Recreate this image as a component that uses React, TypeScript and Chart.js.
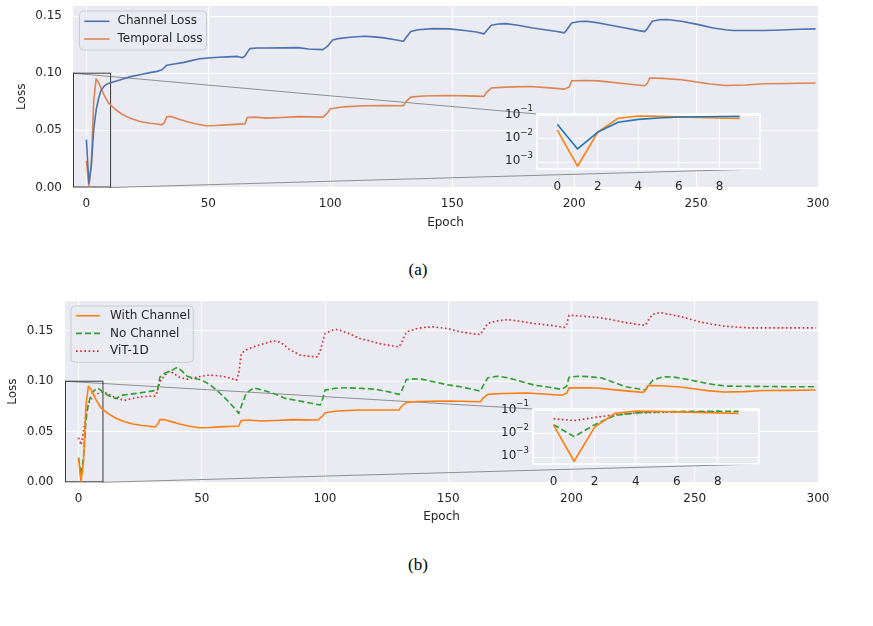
import React, { useEffect, useRef } from 'react';
import { Chart, registerables } from 'chart.js';

Chart.register(...registerables);

const SANS = '"DejaVu Sans", Verdana, sans-serif';
const TEXT = '#262626';
const FACE = '#eaeaf2';

// ---------- data ----------
const channelEpochs = [0, 1, 2, 3, 4, 5, 6, 7, 8, 9, 12, 15, 18, 22, 26, 29, 31, 33, 36, 40, 43, 46, 50, 54, 58, 62, 64, 65, 67, 70, 74, 80, 87, 91, 97, 99, 101, 104, 108, 114, 118, 122, 126, 130, 131, 133, 136, 142, 149, 155, 160, 163, 164, 166, 169, 172, 177, 183, 188, 193, 196, 197, 199, 202, 205, 210, 215, 221, 226, 229, 230, 232, 235, 238, 244, 251, 257, 262, 265, 270, 278, 285, 292, 299];
const channelLoss = [0.042, 0.0037, 0.0194, 0.051, 0.068, 0.078, 0.085, 0.088, 0.09, 0.091, 0.093, 0.095, 0.097, 0.0987, 0.1005, 0.1016, 0.103, 0.107, 0.108, 0.1095, 0.111, 0.1125, 0.1133, 0.114, 0.1143, 0.1147, 0.1135, 0.115, 0.1215, 0.122, 0.122, 0.1222, 0.1224, 0.1212, 0.1206, 0.124, 0.129, 0.1305, 0.1314, 0.1323, 0.1318, 0.1309, 0.1295, 0.128, 0.131, 0.1365, 0.138, 0.139, 0.1388, 0.1373, 0.136, 0.1344, 0.137, 0.142, 0.143, 0.1434, 0.142, 0.1396, 0.138, 0.1365, 0.1353, 0.138, 0.144, 0.1452, 0.1455, 0.144, 0.142, 0.1396, 0.1375, 0.1364, 0.139, 0.1455, 0.1468, 0.147, 0.1455, 0.1425, 0.1396, 0.138, 0.1373, 0.1373, 0.1373, 0.1378, 0.1385, 0.1388];

const temporalEpochs = [0, 1, 2, 3, 4, 5, 6, 7, 8, 9, 10, 12, 15, 18, 22, 26, 29, 31, 32, 33, 35, 38, 41, 45, 49, 53, 57, 61, 65, 66, 69, 74, 80, 87, 92, 97, 99, 100, 105, 114, 122, 130, 131, 133, 138, 148, 156, 163, 164, 166, 172, 182, 190, 196, 198, 199, 205, 210, 220, 229, 230, 231, 236, 244, 251, 256, 262, 270, 278, 288, 299];
const temporalLoss = [0.0234, 0.00067, 0.0194, 0.076, 0.095, 0.092, 0.087, 0.082, 0.078, 0.074, 0.072, 0.068, 0.0636, 0.0605, 0.0577, 0.0562, 0.0555, 0.0548, 0.057, 0.0621, 0.062, 0.0598, 0.0577, 0.0555, 0.054, 0.0542, 0.0548, 0.0552, 0.0557, 0.0612, 0.0616, 0.0607, 0.0612, 0.062, 0.0618, 0.0616, 0.0655, 0.0689, 0.0705, 0.0715, 0.0716, 0.0715, 0.075, 0.0791, 0.08, 0.0805, 0.0802, 0.0797, 0.083, 0.087, 0.0878, 0.0884, 0.0872, 0.0861, 0.088, 0.0934, 0.0936, 0.0933, 0.091, 0.089, 0.091, 0.0958, 0.0955, 0.0943, 0.0921, 0.0905, 0.0893, 0.0897, 0.0908, 0.091, 0.0914];

const noChannelEpochs = [0, 1, 2, 3, 4, 5, 6, 7, 8, 9, 10, 12, 15, 18, 22, 25, 29, 32, 33, 35, 38, 40, 42, 44, 47, 50, 53, 56, 60, 63, 65, 66, 68, 71, 75, 79, 84, 90, 95, 98, 99, 100, 104, 109, 114, 120, 126, 130, 131, 133, 136, 139, 144, 149, 155, 160, 163, 164, 166, 170, 174, 180, 185, 191, 196, 198, 199, 203, 207, 212, 217, 222, 227, 230, 231, 233, 237, 241, 245, 252, 258, 263, 270, 280, 290, 299];
const noChannelLoss = [0.0245, 0.0076, 0.0245, 0.061, 0.078, 0.086, 0.09, 0.092, 0.093, 0.091, 0.089, 0.086, 0.083, 0.0863, 0.0875, 0.0885, 0.09, 0.0912, 0.104, 0.108, 0.111, 0.1136, 0.11, 0.105, 0.103, 0.101, 0.097, 0.0912, 0.082, 0.074, 0.0682, 0.075, 0.088, 0.0935, 0.091, 0.088, 0.083, 0.0803, 0.078, 0.0764, 0.082, 0.0912, 0.093, 0.0935, 0.093, 0.0922, 0.0895, 0.087, 0.09, 0.1018, 0.1025, 0.1021, 0.0995, 0.0968, 0.0945, 0.092, 0.0902, 0.095, 0.1034, 0.105, 0.1035, 0.0995, 0.0961, 0.094, 0.0919, 0.095, 0.104, 0.105, 0.1045, 0.1034, 0.099, 0.0945, 0.0925, 0.0912, 0.095, 0.101, 0.1044, 0.1042, 0.1028, 0.0994, 0.0965, 0.0952, 0.095, 0.0948, 0.0945, 0.0945];

const vitEpochs = [0, 1, 2, 3, 4, 5, 6, 7, 8, 9, 10, 13, 16, 19, 22, 25, 28, 31, 32, 33, 35, 37, 39, 41, 44, 48, 52, 55, 58, 61, 64, 65, 66, 68, 71, 75, 79, 82, 86, 90, 94, 97, 98, 100, 103, 105, 109, 114, 118, 122, 126, 130, 131, 133, 137, 141, 144, 150, 155, 160, 163, 164, 166, 169, 174, 180, 185, 191, 197, 198, 199, 204, 211, 216, 222, 228, 230, 231, 233, 236, 240, 245, 252, 258, 262, 268, 272, 285, 299];
const vitLoss = [0.044, 0.037, 0.05, 0.066, 0.078, 0.082, 0.085, 0.087, 0.088, 0.089, 0.0895, 0.086, 0.0825, 0.0813, 0.083, 0.0846, 0.085, 0.0853, 0.09, 0.0994, 0.106, 0.1103, 0.107, 0.1038, 0.1021, 0.104, 0.106, 0.1058, 0.105, 0.1035, 0.101, 0.108, 0.1275, 0.131, 0.134, 0.137, 0.14, 0.1385, 0.1307, 0.1258, 0.1245, 0.1241, 0.13, 0.1472, 0.1505, 0.1512, 0.148, 0.1423, 0.14, 0.1373, 0.1355, 0.134, 0.138, 0.1488, 0.152, 0.1535, 0.1538, 0.152, 0.1488, 0.147, 0.1462, 0.15, 0.157, 0.1595, 0.161, 0.159, 0.1571, 0.1555, 0.1532, 0.156, 0.1653, 0.1645, 0.163, 0.161, 0.158, 0.1558, 0.1554, 0.16, 0.1663, 0.168, 0.166, 0.1636, 0.1587, 0.156, 0.1545, 0.1535, 0.1528, 0.1528, 0.1528];

const xTicks = [0, 50, 100, 150, 200, 250, 300];
const yTicks = [0, 0.05, 0.1, 0.15];
const insetXTicks = [0, 2, 4, 6, 8];
const insetYTicks = [1e-3, 1e-2, 1e-1];
const INSET_LEN = 10; // first ten epochs are magnified
const ZOOM_X_MAX = 9.7;
const ZOOM_Y_MAX = 0.1;

// ---------- helpers ----------
type Series = { label: string; xs: number[]; ys: number[]; color: string; dash?: number[] };
type Box = { left: number; top: number; right: number; bottom: number };

const points = (xs: number[], ys: number[]) => xs.map((x, i) => ({ x, y: ys[i] }));

const fixScale = (size: number, horizontal: boolean) => (scale: any) => {
  if (horizontal) scale.height = size;
  else scale.width = size;
  scale.paddingLeft = 0;
  scale.paddingRight = 0;
  scale.paddingTop = 0;
  scale.paddingBottom = 0;
};

const faceFill = {
  id: 'faceFill',
  beforeDraw(chart: any) {
    const { ctx, chartArea: a } = chart;
    ctx.save();
    ctx.fillStyle = FACE;
    ctx.fillRect(a.left, a.top, a.right - a.left, a.bottom - a.top);
    ctx.restore();
  },
};

const toDatasets = (series: Series[], len?: number) =>
  series.map((s) => ({
    label: s.label,
    data: points(len ? s.xs.slice(0, len) : s.xs, len ? s.ys.slice(0, len) : s.ys),
    borderColor: s.color,
    backgroundColor: s.color,
    borderWidth: 1.6,
    borderDash: s.dash || [],
    borderJoinStyle: 'round' as const,
    pointRadius: 0,
    fill: false,
    tension: 0,
  }));

type LegendSpec = { left: number; top: number; width: number; height: number; firstRow: number; rowGap: number; lineStart: number; lineEnd: number; textStart: number };

type MainProps = {
  canvasTop: number;
  canvasHeight: number;
  plot: Box;
  yMax: number;
  yTitlePad: number;
  yTickPad: number;
  xTickPad: number;
  series: Series[];
  inset: Box;
  legend: LegendSpec;
};

function MainPlot(p: MainProps) {
  const ref = useRef<HTMLCanvasElement>(null);
  useEffect(() => {
    const W = 873;
    const zoomMarks = {
      id: 'zoomMarks',
      beforeDatasetsDraw(chart: any) {
        const { ctx, chartArea: a, scales } = chart;
        const rx0 = a.left;
        const rx1 = scales.x.getPixelForValue(ZOOM_X_MAX);
        const ry0 = scales.y.getPixelForValue(ZOOM_Y_MAX);
        const ry1 = scales.y.getPixelForValue(0);
        ctx.save();
        ctx.lineWidth = 1;
        ctx.strokeStyle = '#8f8f8f';
        ctx.beginPath();
        ctx.moveTo(rx0, ry0);
        ctx.lineTo(p.inset.left, p.inset.top - p.canvasTop);
        ctx.moveTo(rx1, ry1);
        ctx.lineTo(p.inset.right, p.inset.bottom - p.canvasTop);
        ctx.stroke();
        ctx.strokeStyle = '#3a3a3a';
        ctx.strokeRect(rx0 + 0.5, ry0, rx1 - rx0, ry1 - ry0 - 0.5);
        ctx.restore();
      },
    };
    const legendBox = {
      id: 'legendBox',
      afterDraw(chart: any) {
        const { ctx } = chart;
        const L = p.legend;
        const x = L.left;
        const y = L.top - p.canvasTop;
        const r = 4;
        ctx.save();
        ctx.beginPath();
        ctx.moveTo(x + r, y);
        ctx.arcTo(x + L.width, y, x + L.width, y + L.height, r);
        ctx.arcTo(x + L.width, y + L.height, x, y + L.height, r);
        ctx.arcTo(x, y + L.height, x, y, r);
        ctx.arcTo(x, y, x + L.width, y, r);
        ctx.closePath();
        ctx.globalAlpha = 0.8;
        ctx.fillStyle = FACE;
        ctx.fill();
        ctx.globalAlpha = 1;
        ctx.strokeStyle = '#cccccc';
        ctx.lineWidth = 1;
        ctx.stroke();
        ctx.font = '12px ' + SANS;
        ctx.textBaseline = 'middle';
        ctx.textAlign = 'left';
        p.series.forEach((s, i) => {
          const yy = y + L.firstRow + i * L.rowGap;
          ctx.beginPath();
          ctx.setLineDash(s.dash || []);
          ctx.strokeStyle = s.color;
          ctx.lineWidth = 1.6;
          ctx.moveTo(x + L.lineStart, yy);
          ctx.lineTo(x + L.lineEnd, yy);
          ctx.stroke();
          ctx.setLineDash([]);
          ctx.fillStyle = TEXT;
          ctx.fillText(s.label, x + L.textStart, yy);
        });
        ctx.restore();
      },
    };
    const chart = new Chart(ref.current as HTMLCanvasElement, {
      type: 'line',
      data: { datasets: toDatasets(p.series) as any },
      options: {
        animation: false,
        responsive: false,
        events: [],
        layout: { padding: { left: 0, top: p.plot.top - p.canvasTop, right: W - p.plot.right, bottom: 0 } },
        plugins: { legend: { display: false }, tooltip: { enabled: false } },
        scales: {
          x: {
            type: 'linear',
            min: -5.5,
            max: 300,
            afterBuildTicks: (s: any) => {
              s.ticks = xTicks.map((v) => ({ value: v }));
            },
            afterFit: fixScale(p.canvasHeight - (p.plot.bottom - p.canvasTop), true),
            ticks: { padding: p.xTickPad, color: TEXT, font: { family: SANS, size: 12 }, maxRotation: 0, autoSkip: false, callback: (v: any) => String(v) },
            grid: { color: '#ffffff', lineWidth: 1, drawTicks: false },
            border: { display: false },
            title: { display: true, text: 'Epoch', color: TEXT, font: { family: SANS, size: 12 }, padding: { top: 0, bottom: 0 } },
          },
          y: {
            type: 'linear',
            min: 0,
            max: p.yMax,
            afterBuildTicks: (s: any) => {
              s.ticks = yTicks.map((v) => ({ value: v }));
            },
            afterFit: fixScale(p.plot.left, false),
            ticks: { padding: p.yTickPad, color: TEXT, font: { family: SANS, size: 12 }, callback: (v: any) => Number(v).toFixed(2) },
            grid: { color: '#ffffff', lineWidth: 1, drawTicks: false },
            border: { display: false },
            title: { display: true, text: 'Loss', color: TEXT, font: { family: SANS, size: 12 }, padding: { top: p.yTitlePad, bottom: 0 } },
          },
        },
      },
      plugins: [faceFill, zoomMarks, legendBox],
    });
    return () => chart.destroy();
  }, []);
  return (
    <canvas
      ref={ref}
      width={873}
      height={p.canvasHeight}
      style={{ position: 'absolute', left: 0, top: p.canvasTop, width: 873, height: p.canvasHeight }}
    />
  );
}

function InsetPlot({ box, series }: { box: Box; series: Series[] }) {
  const ref = useRef<HTMLCanvasElement>(null);
  const PL = 60;
  const PT = 20;
  const PR = 20;
  const PB = 32;
  const w = box.right - box.left + PL + PR;
  const h = box.bottom - box.top + PT + PB;
  useEffect(() => {
    const frame = {
      id: 'insetFrame',
      afterDatasetsDraw(chart: any) {
        const { ctx, chartArea: a } = chart;
        ctx.save();
        ctx.strokeStyle = '#ffffff';
        ctx.lineWidth = 1.6;
        ctx.strokeRect(a.left, a.top, a.right - a.left, a.bottom - a.top);
        ctx.restore();
      },
    };
    // power-of-ten labels with a raised exponent, e.g. 10 with −2 above
    const powerLabels = {
      id: 'powerLabels',
      afterDraw(chart: any) {
        const { ctx, chartArea: a, scales } = chart;
        ctx.save();
        ctx.fillStyle = TEXT;
        ctx.textBaseline = 'middle';
        ctx.textAlign = 'left';
        insetYTicks.forEach((v) => {
          const y = scales.y.getPixelForValue(v);
          const exp = '\u2212' + String(Math.abs(Math.round(Math.log10(v))));
          ctx.font = '8.6px ' + SANS;
          const ew = ctx.measureText(exp).width;
          ctx.font = '12px ' + SANS;
          const bw = ctx.measureText('10').width;
          const right = a.left - 4;
          ctx.fillText('10', right - ew - bw, y - 1);
          ctx.font = '8.6px ' + SANS;
          ctx.fillText(exp, right - ew, y - 6.5);
        });
        ctx.restore();
      },
    };
    const chart = new Chart(ref.current as HTMLCanvasElement, {
      type: 'line',
      data: { datasets: toDatasets(series, INSET_LEN) as any },
      options: {
        animation: false,
        responsive: false,
        events: [],
        layout: { padding: { left: 0, top: PT, right: PR, bottom: 0 } },
        plugins: { legend: { display: false }, tooltip: { enabled: false } },
        scales: {
          x: {
            type: 'linear',
            min: -1,
            max: 10,
            afterBuildTicks: (s: any) => {
              s.ticks = insetXTicks.map((v) => ({ value: v }));
            },
            afterFit: fixScale(PB, true),
            ticks: { padding: 10.5, color: TEXT, font: { family: SANS, size: 12 }, maxRotation: 0, autoSkip: false, callback: (v: any) => String(v) },
            grid: { color: '#ffffff', lineWidth: 1, drawTicks: false },
            border: { display: false },
          },
          y: {
            type: 'logarithmic',
            min: 5.1e-4,
            max: 0.115,
            afterBuildTicks: (s: any) => {
              s.ticks = insetYTicks.map((v) => ({ value: v }));
            },
            afterFit: fixScale(PL, false),
            ticks: { display: false },
            grid: { color: '#ffffff', lineWidth: 1, drawTicks: false },
            border: { display: false },
          },
        },
      },
      plugins: [faceFill, frame, powerLabels],
    });
    return () => chart.destroy();
  }, []);
  return (
    <canvas
      ref={ref}
      width={w}
      height={h}
      style={{ position: 'absolute', left: box.left - PL, top: box.top - PT, width: w, height: h }}
    />
  );
}

// ---------- panels ----------
const panelASeries: Series[] = [
  { label: 'Channel Loss', xs: channelEpochs, ys: channelLoss, color: '#4c72b0' },
  { label: 'Temporal Loss', xs: temporalEpochs, ys: temporalLoss, color: '#dd8452' },
];
const panelAInsetSeries: Series[] = [
  { label: 'Channel Loss', xs: channelEpochs, ys: channelLoss, color: '#1f77b4' },
  { label: 'Temporal Loss', xs: temporalEpochs, ys: temporalLoss, color: '#ff7f0e' },
];
const panelBSeries: Series[] = [
  { label: 'With Channel', xs: temporalEpochs, ys: temporalLoss, color: '#ff7f0e' },
  { label: 'No Channel', xs: noChannelEpochs, ys: noChannelLoss, color: '#2ca02c', dash: [6, 3] },
  { label: 'ViT-1D', xs: vitEpochs, ys: vitLoss, color: '#d62728', dash: [1.6, 2.6] },
];

const insetA: Box = { left: 537, top: 114, right: 760, bottom: 169 };
const insetB: Box = { left: 533, top: 409, right: 759, bottom: 464 };

const captionStyle: React.CSSProperties = {
  position: 'absolute',
  left: 0,
  width: 836,
  textAlign: 'center',
  font: '17px "Liberation Serif", "DejaVu Serif", serif',
  lineHeight: '20px',
  color: '#000',
};

export default function App() {
  return (
    <div style={{ position: 'absolute', left: 0, top: 0, width: 873, height: 626, background: '#ffffff', overflow: 'hidden' }}>
      <MainPlot
        canvasTop={0}
        canvasHeight={230}
        plot={{ left: 73, top: 6, right: 818, bottom: 187.5 }}
        yMax={0.1588}
        yTitlePad={14.5}
        yTickPad={11}
        xTickPad={9}
        series={panelASeries}
        inset={insetA}
        legend={{ left: 79.5, top: 11, width: 127, height: 39, firstRow: 10.3, rowGap: 17.7, lineStart: 4.7, lineEnd: 30, textStart: 38 }}
      />
      <InsetPlot box={insetA} series={panelAInsetSeries} />
      <div style={{ ...captionStyle, top: 260 }}>(a)</div>
      <MainPlot
        canvasTop={290}
        canvasHeight={234}
        plot={{ left: 65, top: 301, right: 818, bottom: 482.3 }}
        yMax={0.1794}
        yTitlePad={5.6}
        yTickPad={11.5}
        xTickPad={9}
        series={panelBSeries}
        inset={insetB}
        legend={{ left: 71, top: 306, width: 122.3, height: 56.3, firstRow: 9.7, rowGap: 17.7, lineStart: 5, lineEnd: 29, textStart: 39 }}
      />
      <InsetPlot box={insetB} series={panelBSeries} />
      <div style={{ ...captionStyle, top: 555 }}>(b)</div>
    </div>
  );
}
